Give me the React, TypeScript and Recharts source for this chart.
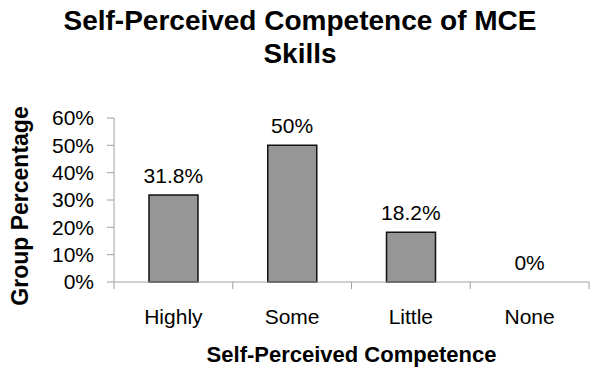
import React from 'react';
import { ComposedChart, Bar, Line, XAxis, YAxis, LabelList } from 'recharts';

const categories = ['Highly', 'Some', 'Little', 'None'];
const percentages = [31.8, 50, 18.2, 0];
const yTicks = [0, 10, 20, 30, 40, 50, 60];

const title = ['Self-Perceived Competence of MCE', 'Skills'];
const xTitle = 'Self-Perceived Competence';
const yTitle = 'Group Percentage';

const data = categories.map((c, i) => ({ name: c, value: percentages[i] }));

const FONT = '"Liberation Sans", Arial, Helvetica, sans-serif';
const AXIS = '#a0a0a0';

const CHART_W = 600;
const CHART_H = 376;
const Y_AXIS_W = 114;
const MARGIN = { top: 118, right: 11, bottom: 54, left: 0 };
const PLOT_W = CHART_W - Y_AXIS_W - MARGIN.left - MARGIN.right;

const CatTick = (props: any) => {
  const cx = Number(props.x);
  const cy = Number(props.y);
  const index = Number(props.index);
  const half = PLOT_W / categories.length / 2;
  const right = cx + half;
  const left = cx - half;
  let d = `M${right},${cy}L${right},${cy + 7}`;
  if (index === 0) d += `M${left},${cy}L${left},${cy + 7}`;
  return (
    <g>
      <path d={d} stroke={AXIS} strokeWidth={1} fill="none" />
      <text x={cx} y={cy + 27} dy="0.71em" textAnchor="middle" fill="#000" fontSize={21} fontFamily={FONT}>
        {props.payload?.value}
      </text>
    </g>
  );
};

export default function App() {
  return (
    <div style={{ position: 'absolute', left: 0, top: 0, width: CHART_W, height: CHART_H, background: '#fff', fontFamily: FONT }}>
      <ComposedChart width={CHART_W} height={CHART_H} data={data} margin={MARGIN}>
        <XAxis
          dataKey="name"
          axisLine={{ stroke: AXIS }}
          tickLine={false}
          tickSize={0}
          tickMargin={0}
          tick={CatTick}
          interval={0}
          height={40}
        />
        <YAxis
          domain={[0, 60]}
          ticks={yTicks}
          interval={0}
          width={Y_AXIS_W}
          axisLine={{ stroke: AXIS }}
          tickLine={{ stroke: AXIS }}
          tickSize={7}
          tickMargin={13}
          tickFormatter={(v: number) => `${v}%`}
          tick={{ fill: '#000', fontSize: 21, fontFamily: FONT }}
        />
        <Bar
          dataKey="value"
          fill="#969696"
          stroke="#111"
          strokeWidth={1.5}
          barSize={49}
          isAnimationActive={false}
        />
        <Line
          dataKey="value"
          stroke="none"
          dot={false}
          activeDot={false}
          isAnimationActive={false}
        >
          <LabelList
            dataKey="value"
            position="top"
            offset={12}
            formatter={(v: number) => `${v}%`}
            style={{ fill: '#000', fontSize: 21, fontFamily: FONT }}
          />
        </Line>
      </ComposedChart>
      <div style={{ position: 'absolute', left: 0, top: 4, width: 600, textAlign: 'center', fontWeight: 'bold', fontSize: 28, lineHeight: '33px', color: '#000' }}>
        <div>{title[0]}</div>
        <div>{title[1]}</div>
      </div>
      <div style={{ position: 'absolute', left: Y_AXIS_W, width: PLOT_W, top: 342, textAlign: 'center', fontWeight: 'bold', fontSize: 22, lineHeight: '26px', color: '#000' }}>
        {xTitle}
      </div>
      <div style={{ position: 'absolute', left: 20, top: 206, width: 0, height: 0 }}>
        <div style={{ position: 'absolute', left: -150, top: -14, width: 300, textAlign: 'center', transform: 'rotate(-90deg)', fontWeight: 'bold', fontSize: 23, lineHeight: '28px', color: '#000', whiteSpace: 'nowrap' }}>
          {yTitle}
        </div>
      </div>
    </div>
  );
}
